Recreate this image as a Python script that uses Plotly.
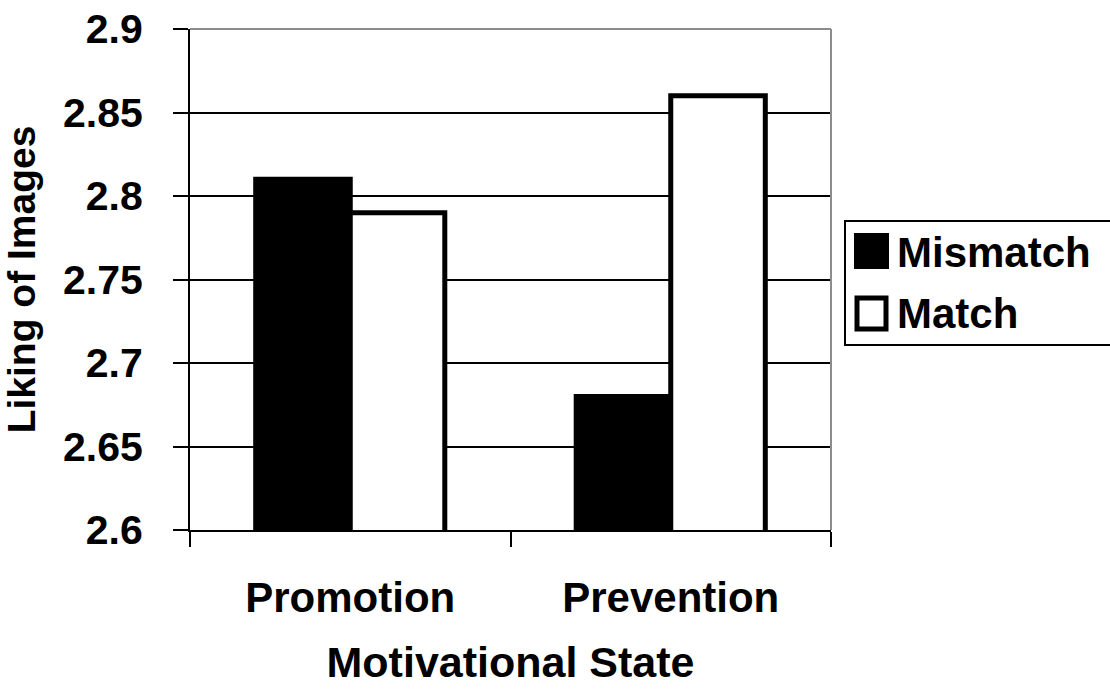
import plotly.graph_objects as go

categories = ["Promotion", "Prevention"]
mismatch = [2.81, 2.68]
match = [2.79, 2.86]
series_names = ["Mismatch", "Match"]
y_ticks = [2.6, 2.65, 2.7, 2.75, 2.8, 2.85, 2.9]
y_tick_text = ["2.6", "2.65", "2.7", "2.75", "2.8", "2.85", "2.9"]

W, H = 1110, 694
L, R, T, B = 190, 831, 29, 530
FONT = dict(family="Liberation Sans, Arial, sans-serif", color="black", weight="bold")


def px(x):
    return (x - L) / (R - L)


def py(y):
    return (B - y) / (B - T)


fig = go.Figure()
fig.add_trace(go.Bar(x=categories, y=mismatch, name=series_names[0],
                     marker=dict(color="black", line=dict(color="black", width=5))))
fig.add_trace(go.Bar(x=categories, y=match, name=series_names[1],
                     marker=dict(color="white", line=dict(color="black", width=5))))

fig.update_layout(
    width=W, height=H,
    margin=dict(l=L, r=W - R, t=T, b=H - B, autoexpand=False),
    paper_bgcolor="white", plot_bgcolor="white",
    barmode="group", bargap=0.41, bargroupgap=0,
    showlegend=False,
    font=dict(**FONT, size=42),
)
fig.update_xaxes(
    type="category", showline=True, linecolor="black", linewidth=2,
    ticks="outside", tickson="boundaries", ticklen=15, tickwidth=2, tickcolor="black",
    tickfont=dict(**FONT, size=42), ticklabelstandoff=30,
    showgrid=False, automargin=False,
    title=dict(text="Motivational State", font=dict(**FONT, size=43), standoff=26),
)
fig.update_yaxes(
    range=[2.6, 2.9], tickvals=y_ticks, ticktext=y_tick_text,
    showline=True, linecolor="black", linewidth=2,
    ticks="outside", ticklen=15, tickwidth=2, tickcolor="black",
    tickfont=dict(**FONT, size=41), ticklabelstandoff=22,
    showgrid=True, gridcolor="black", gridwidth=2, zeroline=False, automargin=False,
    title=dict(text="Liking of Images", font=dict(**FONT, size=39), standoff=16),
)

shapes = [
    # gray top and right plot border
    dict(type="line", xref="paper", yref="paper", x0=0, x1=1, y0=1, y1=1,
         line=dict(color="#8c8c8c", width=2), layer="above"),
    dict(type="line", xref="paper", yref="paper", x0=1, x1=1, y0=0, y1=1,
         line=dict(color="#8c8c8c", width=2), layer="above"),
    # legend box
    dict(type="rect", xref="paper", yref="paper", x0=px(845), x1=px(1115), y0=py(345), y1=py(221),
         line=dict(color="black", width=2), fillcolor="white", layer="above"),
    dict(type="rect", xref="paper", yref="paper", x0=px(855), x1=px(888), y0=py(268), y1=py(234),
         line=dict(color="black", width=2), fillcolor="black", layer="above"),
    dict(type="rect", xref="paper", yref="paper", x0=px(857), x1=px(886), y0=py(329), y1=py(298),
         line=dict(color="black", width=5), fillcolor="white", layer="above"),
]
annotations = [
    dict(text=series_names[0], xref="paper", yref="paper", x=px(895), y=py(252),
         xanchor="left", yanchor="middle", showarrow=False, font=dict(**FONT, size=42)),
    dict(text=series_names[1], xref="paper", yref="paper", x=px(895), y=py(314),
         xanchor="left", yanchor="middle", showarrow=False, font=dict(**FONT, size=42)),
]
fig.update_layout(shapes=shapes, annotations=annotations)

fig.write_html("out.html")
